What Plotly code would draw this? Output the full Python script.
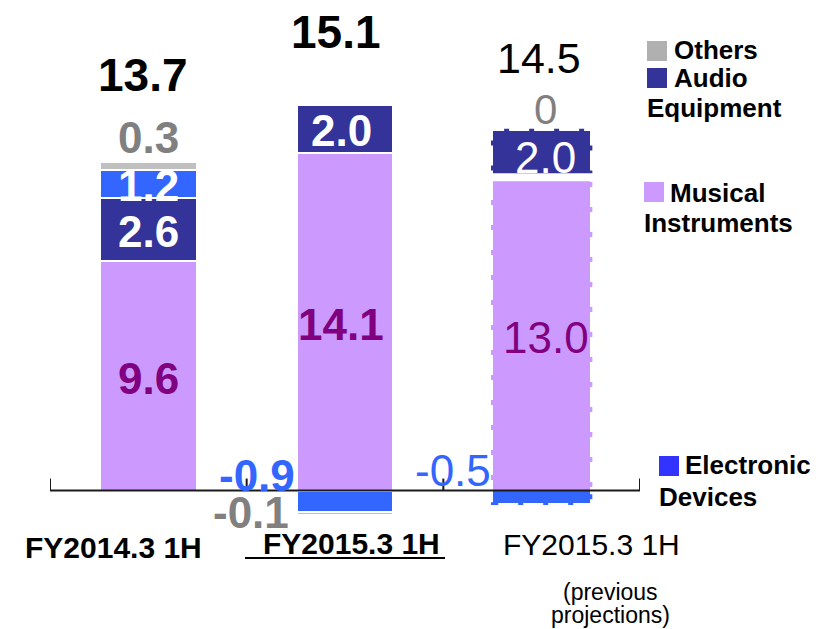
import plotly.graph_objects as go

# ---------------- data ----------------
categories = ["FY2014.3 1H", "FY2015.3 1H", "FY2015.3 1H"]
musical = [9.6, 14.1, 13.0]
audio = [2.6, 2.0, 2.0]
electronic = [1.2, -0.9, -0.5]
others = [0.3, -0.1, 0.0]
totals = [13.7, 15.1, 14.5]

# ---------------- style ----------------
W, H = 827, 629
FONT = "Liberation Sans, Arial, sans-serif"
C_MI = "#CC99FF"
C_AU = "#333399"
C_EL = "#3366FF"
C_OT = "#C0C0C0"
C_MI_TXT = "#800080"
C_OT_TXT = "#808080"
C_EL_TXT = "#3366FF"
BAR_W = 0.49
weights = ["bold", "bold", "normal"]
line_w = [2, 2, 0]   # white separators; projection bar drawn with dashed outline instead

YMIN, YMAX = -5.78, 20.48
xs = list(range(len(categories)))

fig = go.Figure()
series = [
    ("Musical Instruments", musical, C_MI),
    ("Audio Equipment", audio, C_AU),
    ("Electronic Devices", electronic, C_EL),
    ("Others", others, C_OT),
]
for name, vals, col in series:
    fig.add_trace(go.Bar(
        x=xs, y=vals, name=name, width=BAR_W,
        marker=dict(color=col, line=dict(color="white", width=line_w)),
        showlegend=False, hoverinfo="skip",
    ))

def fmt(v):
    return "0" if v == 0 else f"{v:.1f}"

ann = []
def lab(x, y, text, color, size, weight, xanchor="center", yshift=0, xshift=0, xref="x", yref="y"):
    ann.append(dict(x=x, y=y, xref=xref, yref=yref, text=text, showarrow=False,
                    xanchor=xanchor, yanchor="middle", xshift=xshift, yshift=yshift,
                    font=dict(family=FONT, size=size, color=color, weight=weight)))

tot_shift = [87, 73, 73]
x_in_shift = [0, -4, 4]
for i in xs:
    wgt = weights[i]
    pos_top = 0.0
    neg_bot = 0.0
    lab(i, musical[i] / 2, fmt(musical[i]), C_MI_TXT, 44, wgt, yshift=-3, xshift=x_in_shift[i])
    pos_top += musical[i]
    lab(i, pos_top + audio[i] / 2, fmt(audio[i]), "white", 44, wgt, yshift=-2, xshift=x_in_shift[i])
    pos_top += audio[i]
    if electronic[i] > 0:
        lab(i, pos_top + electronic[i] / 2, fmt(electronic[i]), "white", 44, wgt, yshift=-2)
        pos_top += electronic[i]
    else:
        lab(i - BAR_W / 2, 0, fmt(electronic[i]), C_EL_TXT, 44, wgt, xanchor="right",
            yshift=15 if i == 1 else 20)
        neg_bot += electronic[i]
    if others[i] > 0 or (others[i] == 0 and i == 2):
        lab(i, pos_top + others[i], fmt(others[i]), C_OT_TXT, 44 if wgt == "bold" else 42, wgt,
            yshift=25 if i == 0 else 22, xshift=x_in_shift[i])
        pos_top += others[i]
    else:
        lab(i - BAR_W / 2, neg_bot + others[i] / 2, fmt(others[i]), C_OT_TXT, 44, wgt,
            xanchor="right", xshift=-6, yshift=1)
    lab(i, pos_top, fmt(totals[i]), "black", 46 if wgt == "bold" else 43, wgt,
        yshift=tot_shift[i], xshift=[-5, -9, -3][i])

shapes = []
# dashed outlines for projection bar (index 2)
DASH = "5px,20px"
i = 2
segs = [(0.0, musical[i], C_MI), (musical[i], musical[i] + audio[i], C_AU), (0.0, electronic[i], C_EL)]
for y0, y1, col in segs:
    shapes.append(dict(type="rect", xref="x", yref="y", x0=i - BAR_W / 2, x1=i + BAR_W / 2,
                       y0=y0, y1=y1, layer="below",
                       line=dict(color=col, width=5, dash=DASH), fillcolor="rgba(0,0,0,0)"))
# white gap between the projection bar's segments
shapes.append(dict(type="line", xref="x", yref="y", x0=i - BAR_W / 2 - 0.02, x1=i + BAR_W / 2 + 0.02,
                   y0=musical[i] + 0.08, y1=musical[i] + 0.08, layer="above",
                   line=dict(color="white", width=8)))

# category axis line and boundary ticks
bounds = [k - 0.5 for k in range(len(categories) + 1)]
shapes.append(dict(type="line", xref="x", yref="y", x0=bounds[0], x1=bounds[-1], y0=0, y1=0,
                   layer="above", line=dict(color="#1a1a1a", width=2)))
for b in bounds:
    shapes.append(dict(type="line", xref="x", yref="y", ysizemode="pixel", yanchor=0,
                       x0=b, x1=b, y0=0, y1=12, layer="above",
                       line=dict(color="#1a1a1a", width=2)))

def px(x):
    return x / W
def py(y):
    return 1 - y / H

# category labels
lab(px(113), py(547), categories[0], "black", 30, "bold", xref="paper", yref="paper")
lab(px(351), py(543), categories[1], "black", 30, "bold", xref="paper", yref="paper")
lab(px(591), py(544), categories[2], "black", 30, "normal", xref="paper", yref="paper")
lab(px(610), py(592), "(previous", "black", 23, "normal", xref="paper", yref="paper")
lab(px(610), py(615), "projections)", "black", 23, "normal", xref="paper", yref="paper")
shapes.append(dict(type="line", xref="paper", yref="paper", x0=px(245), x1=px(445),
                   y0=py(558), y1=py(558), line=dict(color="black", width=2)))

# legend
legend_items = [
    ("#B0B0B0", 647, 41, [("Others", 672, 50)]),
    (C_AU, 647, 68, [("Audio", 672, 78), ("Equipment", 645, 108)]),
    (C_MI, 644, 182, [("Musical", 668, 193), ("Instruments", 642, 223)]),
    ("#3333FF", 659, 456, [("Electronic", 683, 465), ("Devices", 657, 497)]),
]
for col, sx, sy, texts in legend_items:
    shapes.append(dict(type="rect", xref="paper", yref="paper", x0=px(sx), x1=px(sx + 20),
                       y0=py(sy), y1=py(sy + 20), line=dict(width=0), fillcolor=col))
    for t, tx, ty in texts:
        lab(px(tx), py(ty), t, "black", 26, "bold", xanchor="left", xref="paper", yref="paper")

fig.update_layout(
    width=W, height=H,
    margin=dict(l=0, r=0, t=0, b=0),
    paper_bgcolor="white", plot_bgcolor="white",
    barmode="relative", bargap=0,
    annotations=ann, shapes=shapes,
    xaxis=dict(domain=[50 / W, 640 / W], range=[-0.5, 2.5], visible=False,
               showgrid=False, zeroline=False),
    yaxis=dict(range=[YMIN, YMAX], visible=False, showgrid=False, zeroline=False),
    showlegend=False,
)

fig.write_html("out.html")
